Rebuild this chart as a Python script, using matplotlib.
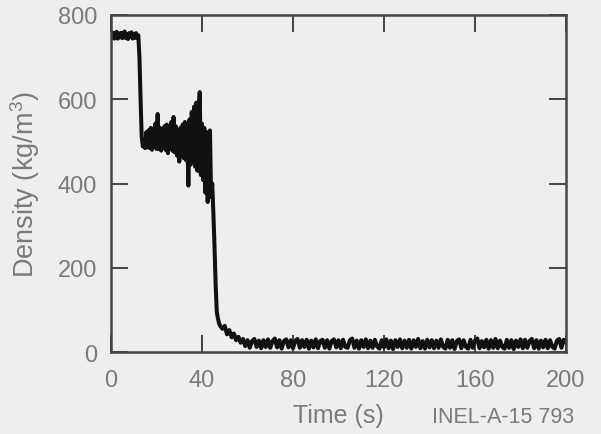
import numpy as np
import matplotlib
matplotlib.use("Agg")
import matplotlib.pyplot as plt

# ---- data (density trace) ----
# Segment A: initial liquid plateau, t = 0 .. 12 s every 0.5 s
t_plateau_start, t_plateau_step = 0.0, 0.5
d_plateau = [755, 746, 758, 744, 752, 760, 744, 756, 747, 758, 745, 753, 761,
             745, 755, 743, 757, 748, 759, 744, 754, 746, 757, 745, 752]

# Segment B: drop + noisy two-phase period, t = 12.5 .. 48 s every 0.5 s
t_mid_start, t_mid_step = 12.5, 0.5
d_mid = [700, 600, 510, 488, 500, 484, 522, 486, 526, 484, 532, 480, 530, 486,
         542, 482, 565, 482, 532, 478, 528, 484, 536, 480, 540, 472, 532, 482,
         546, 478, 558, 474, 536, 466, 524, 452, 532, 468, 540, 460, 546, 455,
         524, 395, 552, 445, 570, 458, 582, 440, 592, 430, 562, 617, 420, 542,
         408, 532, 378, 522, 356, 492, 526, 368, 400, 330, 250, 160, 95, 80,
         68, 62]

# Segment C: steam tail, t = 49 .. 200 s every 1 s
t_tail_start, t_tail_step = 49.0, 1.0
d_tail = [55, 62, 42, 52, 35, 44, 28, 36, 22, 31, 14, 28, 10, 26, 31, 12, 27,
          9, 28, 12, 30, 10, 26, 32, 11, 28, 8, 26, 30, 11, 28, 9, 27, 31,
          10, 28, 12, 29, 8, 27, 11, 30, 9, 26, 29, 10, 28, 8, 26, 30, 11,
          28, 9, 29, 12, 10, 28, 32, 10, 27, 8, 28, 12, 30, 9, 27, 10, 29,
          13, 8, 28, 11, 30, 9, 27, 7, 28, 12, 30, 9, 27, 10, 29, 8, 28,
          12, 31, 9, 26, 8, 29, 11, 28, 9, 27, 10, 30, 12, 8, 29, 10, 28,
          7, 26, 30, 9, 28, 12, 8, 29, 10, 27, 32, 9, 26, 11, 29, 8, 28,
          10, 31, 9, 27, 12, 8, 29, 10, 28, 7, 27, 12, 30, 9, 29, 10, 26,
          31, 9, 28, 8, 27, 11, 29, 9, 28, 12, 8, 27, 31, 10, 29, 24]

x_ticks = [0, 40, 80, 120, 160, 200]
y_ticks = [0, 200, 400, 600, 800]

def seg_times(start, step, values):
    return start + step * np.arange(len(values))

t_all = np.concatenate([seg_times(t_plateau_start, t_plateau_step, d_plateau),
                        seg_times(t_mid_start, t_mid_step, d_mid),
                        seg_times(t_tail_start, t_tail_step, d_tail)])
d_all = np.array(d_plateau + d_mid + d_tail, dtype=float)

# ---- style ----
plt.rcParams['font.family'] = ['Liberation Sans', 'DejaVu Sans']
plt.rcParams['mathtext.fontset'] = 'custom'
plt.rcParams['mathtext.rm'] = 'Liberation Sans'
bg = '#eeeeee'
txt = '#7a7a7a'
spine = '#444444'

fig = plt.figure(figsize=(6.01, 4.35), dpi=100, facecolor=bg)
ax = fig.add_axes([111/601, 1 - 353/435, (566 - 111)/601, (353 - 16)/435])
ax.set_facecolor(bg)

ax.plot(t_all, d_all, color='#111111', lw=2.9, solid_joinstyle='round')

ax.set_xlim(0, 200)
ax.set_ylim(0, 800)
ax.set_xticks(x_ticks)
ax.set_yticks(y_ticks)
ax.tick_params(direction='in', length=12, width=1.4, color=spine,
               labelsize=17, labelcolor=txt, top=True, right=True)
ax.tick_params(axis='x', pad=12)
ax.tick_params(axis='y', pad=10)
for s in ax.spines.values():
    s.set_color(spine)
    s.set_linewidth(1.8)

ax.set_xlabel('Time (s)', fontsize=18, color=txt, labelpad=9)
ax.set_ylabel('Density (kg/m$^{\\mathregular{3}}$)', fontsize=19.5, color=txt,
              labelpad=11)
fig.text(432/601, 1 - 423/435, 'INEL-A-15 793', fontsize=15.5, color=txt,
         ha='left', va='baseline')

fig.savefig('out.png', dpi=100, facecolor=bg)
